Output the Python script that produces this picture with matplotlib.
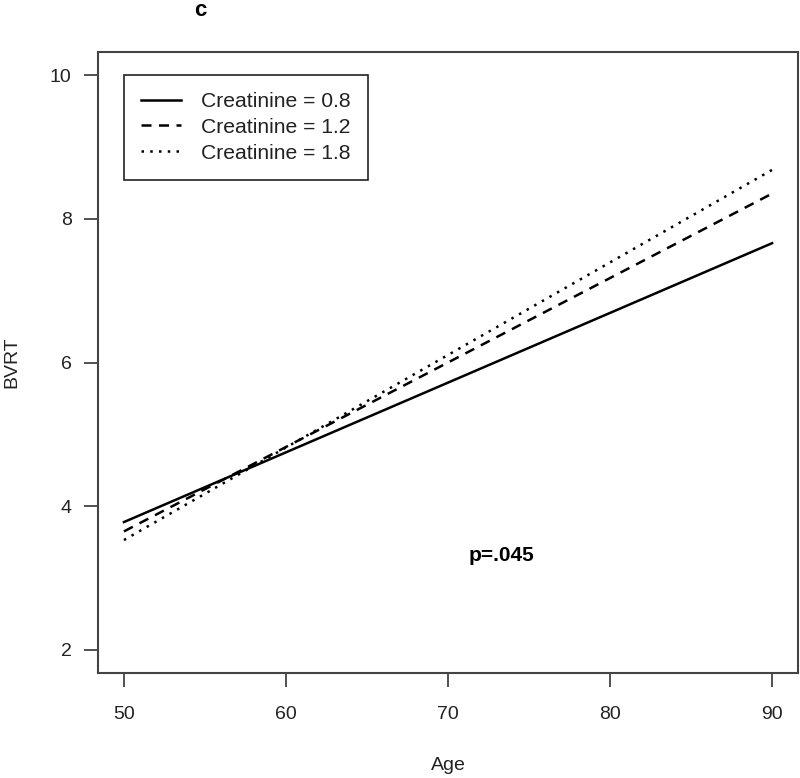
import matplotlib
matplotlib.use("Agg")
import matplotlib.pyplot as plt
import numpy as np

plt.rcParams['font.family'] = ['Liberation Sans', 'DejaVu Sans']

age = [50, 90]
creat_labels = ["Creatinine = 0.8", "Creatinine = 1.2", "Creatinine = 1.8"]
bvrt_08 = [3.78, 7.66]
bvrt_12 = [3.65, 8.35]
bvrt_18 = [3.53, 8.68]
x_ticks = [50, 60, 70, 80, 90]
y_ticks = [2, 4, 6, 8, 10]

fig = plt.figure(figsize=(8, 7.78), dpi=100)
ax = fig.add_axes([98/800, 1-673/778, 700/800, 621/778])

lw = 1.8
ax.plot(age, bvrt_08, color='black', lw=lw, linestyle='-', label=creat_labels[0])
ax.plot(age, bvrt_12, color='black', lw=lw, linestyle=(0, (4, 3)), label=creat_labels[1])
ax.plot(age, bvrt_18, color='black', lw=lw, linestyle=(0, (1, 2.5)), label=creat_labels[2])

ax.set_xlim(48.4, 91.6)
ax.set_ylim(1.68, 10.32)
ax.set_xticks(x_ticks)
ax.set_yticks(y_ticks)
ax.tick_params(direction='out', length=10, width=1.2, colors='#333333',
               labelsize=14, labelcolor='#222222')
ax.tick_params(axis='x', pad=14)
ax.tick_params(axis='y', pad=9)
for s in ax.spines.values():
    s.set_color('#444444')
    s.set_linewidth(1.5)

leg = ax.legend(loc='upper left', bbox_to_anchor=(26/700, 1-23/621), borderaxespad=0,
                fontsize=15.2, handlelength=1.9, handletextpad=0.95, labelspacing=0.33,
                borderpad=0.8, fancybox=False, framealpha=1, edgecolor='#222222')
leg.get_frame().set_linewidth(1.2)
for t in leg.get_texts():
    t.set_color('#222222')

ax.text(73.3, 3.32, "p=.045", fontsize=15, fontweight='bold', ha='center', va='center')

fig.text(200/800, 1-10/778, "c", fontsize=16, fontweight='bold', ha='center', va='center')
fig.text(12/800, 1-362/778, "BVRT", fontsize=14, rotation=90, ha='center', va='center', color='#222222')
fig.text(448/800, 1-766/778, "Age", fontsize=14, ha='center', va='center', color='#222222')

fig.savefig("out.png", dpi=100)
